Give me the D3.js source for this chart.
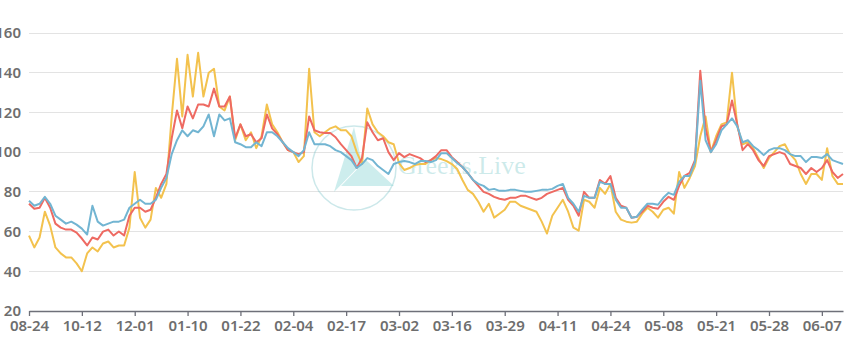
<!DOCTYPE html>
<html>
<head>
<meta charset="utf-8">
<script src="https://cdn.jsdelivr.net/npm/d3@7/dist/d3.min.js"></script>
<style>
  html, body { margin: 0; padding: 0; background: #fff; }
  svg { display: block; }
</style>
</head>
<body>
<svg id="chart" width="850" height="345"></svg>
<script>
// ---- data ----
const tickLabels = ["08-24","10-12","12-01","01-10","01-22","02-04","02-17","03-02","03-16","03-29","04-11","04-24","05-08","05-21","05-28","06-07"];
const tickEvery = 10;
const yTicks = [20, 40, 60, 80, 100, 120, 140, 160];

const seriesBlue = [
  75.5,73,74,77.5,74,68,66,64,65,63.5,61.5,
  58.5,73,65,63,64,65,65,66,72,74,
  76,74,74,76,82,87,
  99,106,111,108,111,110,113,119,108,119,116,117,105,104,102.5,102.5,105,103,110,110,108,105,102,100,
  98,101,110,104,104,104,103,101,100,98,96,92,94,97,96,93,91,89,94,95,95.5,95,94,95.5,95.5,95,96,99.5,99.5,97,
  94.5,92.5,89.5,86,84,83,81,81.5,80.5,80.5,81,81,80.5,80,80,80.5,81,81,81.5,
  83,84,77,74,70,78,77,77,85,84,
  84,76,72,72,67,67.5,71,74,74,73.5,
  77,79.5,78.5,85,88,88,95,136,106,100,
  104,111,114,117,113,105,106,103,101,98.5,
  101,102,102,101,99,98,98,95,97.5,97.5,
  97,99,96,95,94
];
const seriesRed = [
  74,71.5,72,77,72,64,62,61,61,59.5,56.5,
  53,57,56,60,61,58,60,58,68,72,
  72,70,71,77,84,89,
  107,121,112,123,117,124,124,123,132,123,123,128,107,114,108,109,105,107,119,112,109,105,101,100,
  99,100,118,111,110,109.6,109.6,107.5,104,101,98,92,97,115,110,106,107,100,96,99.5,97.5,99,98,97,95,96,98,101,101,97.5,
  95,92.5,89.5,86,83,80,79,77.5,76.5,76,77,77,78,78,77,76,77,79,80,
  81,82,76,73,68,80,77,77,86,84,
  88,77,73,72,67,67.5,70,73,72,71.5,
  75,77.5,76,83,88,89.5,96,141,112,100,
  106,113,114,126,114,101,104,101,96,93,
  98,99,100,99,94,93,92,89,92,90,
  92,96,90,87,89
];
const seriesYellow = [
  58,52,57,70,63,52,49,47,47,44,40,
  49,52,50,54,55,52,53,53,62,90,
  67,62,66,82,77,84,
  118,147,118,149,128,150,128,140,142,123,121,128,106,114,106,110,102,108,124,114,110,105,101,100,
  95,98,142,110,108,110,112,113,111,111,108,100,94,122,114,110,108,105,104,94.5,91,92,93.5,94,94,96,97,96.5,95.5,94,
  91.5,86,81,79,75,70,74,67,69,71,75,75,73,72,71,70,65,59,68,
  72,76,70,62,60.5,76,75,72,82,79,
  84,70,66,65,64.5,65,69,72,70,67,
  71,72,69,90,82,87,93,108,118,100,
  108,114,115,140,113,104,105,102,97,92,
  97,100,103,104,99,96,89,84,89,89,
  86,102,88,84,84
];

// ---- layout ----
const svg = d3.select("#chart");
const plotL = 29, plotR = 843, plotT = 33, plotB = 311;
const n = seriesBlue.length;
const idx = d3.range(n);

const x = d3.scalePoint().domain(idx).range([plotL, plotR]);
const y = d3.scaleLinear().domain([20, 160]).range([plotB, plotT]);

const textColor = "#6e6e6e";
const fontFam = "'Noto Sans', 'Open Sans', sans-serif";

// grid lines
svg.append("g").selectAll("line")
  .data(yTicks.filter(v => v !== 20))
  .join("line")
  .attr("x1", plotL).attr("x2", plotR)
  .attr("y1", d => y(d)).attr("y2", d => y(d))
  .attr("stroke", "#e3e3e3").attr("stroke-width", 1)
  .attr("shape-rendering", "crispEdges");

// y axis labels
const yAxis = d3.axisLeft(y).tickValues(yTicks).tickSize(0).tickPadding(8);
const gy = svg.append("g").attr("transform", `translate(${plotL},0)`).call(yAxis);
gy.select(".domain").remove();
gy.selectAll("text")
  .attr("fill", textColor).attr("font-size", 15).attr("font-weight", 600)
  .attr("font-family", fontFam);

// watermark
const wm = svg.append("g");
wm.append("circle").attr("cx", 354).attr("cy", 168).attr("r", 42)
  .attr("fill", "none").attr("stroke", "rgba(120,195,200,0.38)").attr("stroke-width", 1.5);
wm.append("polygon").attr("points", "334,192 354,127 362,163")
  .attr("fill", "rgba(100,200,200,0.32)");
wm.append("polygon").attr("points", "341,186 366,160 394,186")
  .attr("fill", "rgba(100,200,200,0.32)");
wm.append("text").attr("x", 398).attr("y", 174)
  .attr("font-family", "'Liberation Serif', 'DejaVu Serif', serif")
  .attr("font-size", 26)
  .attr("fill", "rgba(110,195,195,0.35)")
  .text("Greeks.Live");

// x axis
const tickIdx = tickLabels.map((_, k) => k * tickEvery);
const xAxis = d3.axisBottom(x).tickValues(tickIdx)
  .tickFormat(d => tickLabels[d / tickEvery]).tickSize(5).tickSizeOuter(0).tickPadding(4);
const gx = svg.append("g").attr("transform", `translate(0,${plotB})`).call(xAxis);
gx.select(".domain").attr("stroke", "#6e7079").attr("stroke-width", 1.3);
gx.selectAll(".tick line").attr("stroke", "#6e7079").attr("stroke-width", 1.3);
gx.selectAll("text")
  .attr("fill", textColor).attr("font-size", 15).attr("font-weight", 600)
  .attr("font-family", fontFam);

// lines
const line = d3.line().x((d, i) => x(i)).y(d => y(d));
const series = [
  {data: seriesYellow, color: "#f3c24e"},
  {data: seriesRed, color: "#ee6a62"},
  {data: seriesBlue, color: "#72b5d2"}
];
svg.append("g").selectAll("path")
  .data(series)
  .join("path")
  .attr("d", s => line(s.data))
  .attr("fill", "none")
  .attr("stroke", s => s.color)
  .attr("stroke-width", 2)
  .attr("stroke-linejoin", "round");
</script>
</body>
</html>
